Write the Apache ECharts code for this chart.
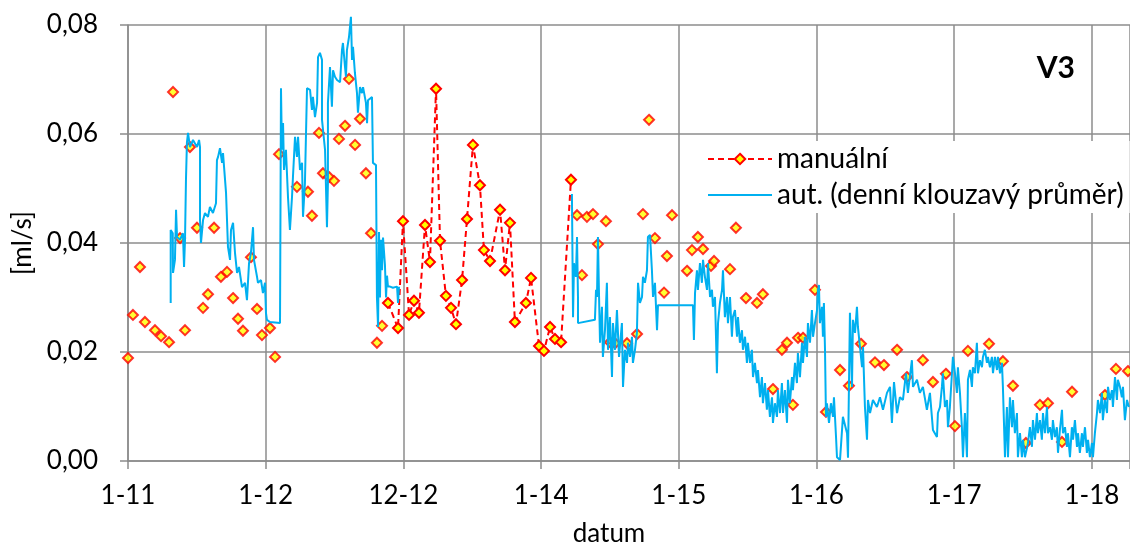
<!DOCTYPE html>
<html>
<head>
<meta charset="utf-8">
<script src="https://cdn.jsdelivr.net/npm/echarts@6/dist/echarts.min.js"></script>
<style>
  html, body { margin: 0; background: #fff; }
  #chart { width: 1130px; height: 547px; }
</style>
</head>
<body>
<div id="chart"></div>
<script>
// x = roky od 1-11 (leden 2011), y = průtok [ml/s]
const xTickLabels = ['1-11', '1-12', '12-12', '1-14', '1-15', '1-16', '1-17', '1-18'];

// manuální měření - samostatné body
const manualLoose = [
  [0.000,0.0189],[0.036,0.0268],[0.087,0.0356],[0.123,0.0255],[0.196,0.0240],[0.240,0.0229],
  [0.298,0.0218],[0.327,0.0677],[0.378,0.0409],[0.414,0.0240],[0.450,0.0576],[0.501,0.0428],
  [0.545,0.0281],[0.581,0.0306],[0.625,0.0428],[0.675,0.0338],[0.719,0.0347],[0.763,0.0299],
  [0.799,0.0261],[0.835,0.0239],[0.893,0.0374],[0.937,0.0279],[0.973,0.0231],[1.031,0.0244],
  [1.068,0.0191],[1.097,0.0563],[1.227,0.0503],[1.307,0.0494],[1.336,0.0450],[1.387,0.0602],
  [1.416,0.0528],[1.460,0.0521],[1.496,0.0514],[1.532,0.0591],[1.576,0.0615],[1.605,0.0701],
  [1.649,0.0580],[1.685,0.0628],[1.728,0.0528],[1.765,0.0418],[1.808,0.0217],[1.845,0.0248],
  [3.261,0.0451],[3.297,0.0341],[3.333,0.0448],[3.377,0.0453],[3.413,0.0398],[3.471,0.0440],
  [3.500,0.0218],[3.537,0.0216],[3.624,0.0216],[3.697,0.0233],[3.740,0.0453],[3.784,0.0626],
  [3.827,0.0409],[3.893,0.0309],[3.914,0.0376],[3.951,0.0451],[4.060,0.0349],[4.096,0.0387],
  [4.139,0.0411],[4.176,0.0389],[4.234,0.0358],[4.256,0.0367],[4.372,0.0352],[4.415,0.0428],
  [4.488,0.0299],[4.568,0.0290],[4.611,0.0306],[4.684,0.0132],[4.749,0.0204],[4.786,0.0217],
  [4.829,0.0103],[4.866,0.0226],[4.902,0.0226],[4.989,0.0314],[5.069,0.0090],[5.171,0.0167],
  [5.236,0.0138],[5.323,0.0215],[5.425,0.0181],[5.490,0.0176],[5.585,0.0204],[5.657,0.0154],
  [5.773,0.0185],[5.846,0.0145],[5.940,0.0160],[6.006,0.0064],[6.100,0.0202],[6.253,0.0215],
  [6.354,0.0183],[6.427,0.0138],[6.521,0.0033],[6.623,0.0103],[6.681,0.0106],[6.783,0.0035],
  [6.856,0.0127],[7.095,0.0121],[7.175,0.0169],[7.262,0.0165]
];

// manuální měření - souvislá řada (12-12 až 1-14)
const manualRun = [
  [1.888,0.0290],[1.961,0.0244],[1.997,0.0440],[2.041,0.0268],[2.077,0.0294],[2.113,0.0272],
  [2.157,0.0433],[2.193,0.0365],[2.237,0.0683],[2.266,0.0404],[2.309,0.0303],[2.346,0.0281],
  [2.382,0.0251],[2.426,0.0332],[2.462,0.0444],[2.505,0.0580],[2.556,0.0506],[2.585,0.0387],
  [2.629,0.0367],[2.702,0.0461],[2.738,0.0350],[2.774,0.0437],[2.810,0.0255],[2.890,0.0290],
  [2.927,0.0336],[2.985,0.0211],[3.021,0.0202],[3.065,0.0246],[3.101,0.0224],[3.145,0.0218],
  [3.217,0.0516]
];

// automatické měření - 2011 až 12-12
const autoA = [
  [0.310,0.0290],[0.310,0.0424],[0.325,0.0418],[0.327,0.0345],[0.341,0.0369],[0.349,0.0461],
  [0.356,0.0411],[0.378,0.0406],[0.399,0.0418],[0.407,0.0356],[0.414,0.0406],[0.421,0.0516],
  [0.428,0.0584],[0.436,0.0602],[0.450,0.0576],[0.472,0.0589],[0.501,0.0576],[0.516,0.0589],
  [0.523,0.0576],[0.523,0.0442],[0.530,0.0400],[0.545,0.0442],[0.559,0.0455],[0.581,0.0448],
  [0.595,0.0466],[0.617,0.0455],[0.639,0.0473],[0.646,0.0552],[0.654,0.0558],[0.668,0.0574],
  [0.683,0.0547],[0.690,0.0565],[0.712,0.0492],[0.719,0.0492],[0.726,0.0393],[0.741,0.0369],
  [0.748,0.0424],[0.763,0.0437],[0.777,0.0382],[0.792,0.0345],[0.806,0.0356],[0.828,0.0319],
  [0.850,0.0327],[0.864,0.0295],[0.879,0.0363],[0.893,0.0382],[0.908,0.0429],[0.915,0.0369],
  [0.937,0.0338],[0.944,0.0327],[0.966,0.0332],[0.980,0.0308],[0.995,0.0327],[1.002,0.0272],
  [1.009,0.0259],[1.031,0.0255],[1.104,0.0253],
  [1.111,0.0684],[1.118,0.0571],[1.126,0.0620],[1.133,0.0534],[1.147,0.0571],[1.162,0.0484],
  [1.176,0.0424],[1.191,0.0484],[1.198,0.0521],[1.213,0.0595],[1.227,0.0558],[1.235,0.0595],
  [1.249,0.0534],[1.264,0.0547],[1.271,0.0448],[1.285,0.0510],[1.300,0.0684],[1.322,0.0681],
  [1.336,0.0644],[1.343,0.0668],[1.358,0.0631],[1.373,0.0657],[1.380,0.0741],[1.394,0.0749],
  [1.409,0.0736],[1.409,0.0626],[1.423,0.0626],[1.431,0.0571],[1.445,0.0429],[1.452,0.0510],
  [1.452,0.0657],[1.467,0.0723],[1.481,0.0650],[1.489,0.0717],[1.503,0.0705],[1.518,0.0699],
  [1.540,0.0695],[1.554,0.0754],[1.561,0.0767],[1.576,0.0723],[1.583,0.0705],[1.590,0.0754],
  [1.605,0.0778],[1.619,0.0815],[1.627,0.0736],[1.634,0.0760],[1.648,0.0712],[1.663,0.0675],
  [1.670,0.0639],[1.685,0.0686],[1.699,0.0675],[1.707,0.0686],[1.728,0.0657],[1.736,0.0620],
  [1.743,0.0662],[1.757,0.0662],[1.772,0.0668],[1.779,0.0547],[1.801,0.0543],[1.808,0.0300],
  [1.816,0.0246],[1.823,0.0420],[1.830,0.0300],[1.837,0.0406],[1.845,0.0350],[1.852,0.0410],
  [1.866,0.0360],[1.874,0.0300],[1.881,0.0340],[1.888,0.0320],[1.903,0.0320],[1.924,0.0318],
  [1.954,0.0320],[1.961,0.0290],[1.968,0.0320]
];

// automatické měření - 1-14 až 1-18
const autoB = [
  [3.224,0.0490],[3.232,0.0264],[3.239,0.0363],[3.253,0.0338],[3.261,0.0411],[3.268,0.0301],
  [3.268,0.0253],[3.282,0.0255],[3.391,0.0259],[3.399,0.0314],[3.406,0.0301],[3.413,0.0411],
  [3.420,0.0314],[3.428,0.0217],[3.442,0.0283],[3.449,0.0191],[3.464,0.0240],[3.478,0.0327],
  [3.486,0.0204],[3.500,0.0264],[3.515,0.0154],[3.522,0.0253],[3.537,0.0204],[3.551,0.0277],
  [3.566,0.0191],[3.587,0.0253],[3.595,0.0136],[3.609,0.0204],[3.624,0.0180],[3.631,0.0217],
  [3.646,0.0191],[3.660,0.0228],[3.667,0.0180],[3.682,0.0204],[3.696,0.0235],[3.704,0.0327],
  [3.718,0.0290],[3.733,0.0301],[3.740,0.0338],[3.754,0.0327],[3.769,0.0350],[3.776,0.0411],
  [3.791,0.0415],[3.805,0.0350],[3.813,0.0301],[3.827,0.0327],[3.842,0.0240],[3.849,0.0286],
  [3.958,0.0286],[4.103,0.0286],[4.110,0.0222],[4.118,0.0308],[4.132,0.0350],[4.139,0.0314],
  [4.154,0.0363],[4.168,0.0327],[4.176,0.0369],[4.190,0.0338],[4.205,0.0314],[4.212,0.0363],
  [4.227,0.0301],[4.241,0.0314],[4.248,0.0283],[4.263,0.0301],[4.277,0.0161],[4.285,0.0253],
  [4.299,0.0290],[4.314,0.0314],[4.321,0.0350],[4.335,0.0264],[4.350,0.0301],[4.357,0.0253],
  [4.372,0.0301],[4.386,0.0228],[4.393,0.0264],[4.408,0.0277],[4.423,0.0228],[4.430,0.0264],
  [4.444,0.0217],[4.459,0.0240],[4.466,0.0204],[4.481,0.0228],[4.495,0.0180],[4.502,0.0217],
  [4.517,0.0180],[4.531,0.0204],[4.539,0.0154],[4.553,0.0180],[4.568,0.0143],[4.575,0.0167],
  [4.590,0.0117],[4.604,0.0154],[4.611,0.0106],[4.626,0.0143],[4.640,0.0094],[4.648,0.0130],
  [4.662,0.0081],[4.677,0.0117],[4.684,0.0070],[4.698,0.0106],[4.713,0.0081],[4.720,0.0130],
  [4.735,0.0088],[4.749,0.0143],[4.757,0.0088],[4.771,0.0130],[4.786,0.0070],[4.793,0.0149],
  [4.807,0.0106],[4.822,0.0154],[4.829,0.0130],[4.844,0.0180],[4.858,0.0143],[4.865,0.0198],
  [4.880,0.0154],[4.895,0.0217],[4.902,0.0180],[4.916,0.0228],[4.931,0.0191],[4.938,0.0253],
  [4.953,0.0217],[4.967,0.0277],[4.975,0.0228],[4.989,0.0253],[5.004,0.0277],[5.011,0.0314],
  [5.018,0.0323],[5.025,0.0253],[5.040,0.0283],[5.047,0.0228],[5.054,0.0290],[5.062,0.0204],
  [5.069,0.0081],[5.076,0.0106],[5.091,0.0070],[5.105,0.0106],[5.120,0.0081],[5.127,0.0117],
  [5.142,0.0044],[5.149,0.0007],[5.171,0.0002],[5.192,0.0081],[5.222,0.0051],[5.229,0.0006],
  [5.243,0.0272],[5.258,0.0136],[5.265,0.0259],[5.280,0.0235],[5.294,0.0283],[5.301,0.0246],
  [5.316,0.0209],[5.331,0.0172],[5.338,0.0209],[5.352,0.0099],[5.367,0.0039],[5.374,0.0112],
  [5.389,0.0088],[5.410,0.0112],[5.439,0.0099],[5.461,0.0117],[5.483,0.0094],[5.512,0.0125],
  [5.534,0.0136],[5.548,0.0070],[5.563,0.0145],[5.585,0.0088],[5.606,0.0117],[5.628,0.0112],
  [5.650,0.0161],[5.664,0.0125],[5.693,0.0185],[5.701,0.0136],[5.730,0.0149],[5.751,0.0125],
  [5.773,0.0136],[5.802,0.0094],[5.824,0.0125],[5.846,0.0057],[5.875,0.0044],[5.882,0.0088],
  [5.897,0.0099],[5.911,0.0136],[5.918,0.0161],[5.933,0.0099],[5.948,0.0112],[5.955,0.0062],
  [5.969,0.0099],[5.984,0.0161],[5.991,0.0191],[6.006,0.0161],[6.020,0.0125],[6.027,0.0172],
  [6.042,0.0125],[6.056,0.0062],[6.064,0.0007],[6.078,0.0088],[6.093,0.0007],[6.100,0.0149],
  [6.115,0.0167],[6.129,0.0136],[6.136,0.0172],[6.151,0.0161],[6.165,0.0217],[6.173,0.0161],
  [6.187,0.0185],[6.202,0.0172],[6.209,0.0191],[6.223,0.0204],[6.238,0.0180],[6.245,0.0191],
  [6.260,0.0172],[6.274,0.0191],[6.282,0.0161],[6.296,0.0191],[6.311,0.0167],[6.318,0.0191],
  [6.333,0.0161],[6.347,0.0180],[6.354,0.0136],[6.369,0.0007],[6.383,0.0099],[6.391,0.0007],
  [6.405,0.0117],[6.420,0.0062],[6.427,0.0112],[6.441,0.0051],[6.456,0.0088],[6.463,0.0007],
  [6.478,0.0051],[6.492,0.0007],[6.500,0.0039],[6.514,0.0007],[6.536,0.0033],[6.550,0.0062],
  [6.565,0.0026],[6.572,0.0075],[6.587,0.0039],[6.601,0.0088],[6.608,0.0051],[6.623,0.0075],
  [6.637,0.0039],[6.645,0.0088],[6.659,0.0051],[6.674,0.0099],[6.681,0.0051],[6.696,0.0062],
  [6.710,0.0039],[6.717,0.0075],[6.732,0.0044],[6.746,0.0062],[6.754,0.0015],[6.768,0.0057],
  [6.783,0.0094],[6.790,0.0051],[6.805,0.0062],[6.819,0.0026],[6.826,0.0051],[6.841,0.0007],
  [6.855,0.0062],[6.863,0.0039],[6.877,0.0075],[6.892,0.0026],[6.899,0.0051],[6.913,0.0015],
  [6.928,0.0051],[6.935,0.0026],[6.950,0.0062],[6.964,0.0015],[6.972,0.0039],[6.986,0.0007],
  [7.001,0.0033],[7.008,0.0007],[7.022,0.0051],[7.037,0.0088],[7.044,0.0112],[7.059,0.0088],
  [7.073,0.0125],[7.080,0.0075],[7.095,0.0112],[7.110,0.0088],[7.117,0.0136],[7.131,0.0112],
  [7.146,0.0130],[7.153,0.0099],[7.168,0.0154],[7.182,0.0112],[7.189,0.0149],[7.204,0.0136],
  [7.218,0.0117],[7.226,0.0136],[7.240,0.0075],[7.255,0.0112],[7.269,0.0099]
];

const FONT = "Lato, 'Open Sans', sans-serif";
const GRID_GRAY = '#8c8c8c';
const MANUAL = 'manuální';
const AUTO = 'aut. (denní klouzavý průměr)';

const chart = echarts.init(document.getElementById('chart'));

const diamondStyle = { color: '#FFFF00', borderColor: '#FF0000', borderWidth: 2 };

chart.setOption({
  animation: false,
  textStyle: { fontFamily: FONT },
  title: {
    text: 'V3',
    right: 50,
    top: 48,
    textStyle: { fontSize: 30, fontWeight: 'bold', color: '#000', fontFamily: FONT }
  },
  legend: {
    orient: 'vertical',
    left: 697,
    top: 141,
    itemWidth: 64,
    itemHeight: 13,
    itemGap: 8,
    padding: [4, 6, 4, 10],
    backgroundColor: '#fff',
    textStyle: { fontSize: 28, color: '#000', fontFamily: FONT },
    data: [
      { name: MANUAL },
      { name: AUTO, itemStyle: { opacity: 0 } }
    ]
  },
  grid: { left: 128, right: 0, top: 25, bottom: 86, outerBoundsMode: 'none' },
  xAxis: {
    type: 'value',
    min: 0,
    max: 7.277,
    interval: 1,
    name: 'datum',
    nameLocation: 'middle',
    nameGap: 60,
    nameMoveOverlap: false,
    nameTextStyle: { fontSize: 26, color: '#000', padding: [0, 40, 0, 0] },
    axisLine: { lineStyle: { color: GRID_GRAY, width: 1.5 } },
    axisTick: { show: true, length: 8, lineStyle: { color: GRID_GRAY, width: 1.5 } },
    axisLabel: {
      fontSize: 26, color: '#000', margin: 22,
      formatter: v => (Math.abs(v - Math.round(v)) < 1e-6 ? (xTickLabels[Math.round(v)] || '') : '')
    },
    splitLine: { show: true, lineStyle: { color: GRID_GRAY, width: 1.5 } }
  },
  yAxis: {
    type: 'value',
    min: 0,
    max: 0.08,
    interval: 0.02,
    name: '[ml/s]',
    nameLocation: 'middle',
    nameGap: 92,
    nameMoveOverlap: false,
    nameTextStyle: { fontSize: 26, color: '#000' },
    axisLine: { show: true, lineStyle: { color: GRID_GRAY, width: 1.5 } },
    axisTick: { show: true, length: 8, lineStyle: { color: GRID_GRAY, width: 1.5 } },
    axisLabel: {
      fontSize: 26, color: '#000', margin: 30,
      formatter: v => v.toFixed(2).replace('.', ',')
    },
    splitLine: { show: true, lineStyle: { color: GRID_GRAY, width: 1.5 } }
  },
  series: [
    {
      name: MANUAL,
      type: 'line',
      data: manualRun,
      symbol: 'diamond',
      symbolSize: 10,
      itemStyle: diamondStyle,
      lineStyle: { color: '#FF0000', width: 2, type: [6, 4] },
      z: 2
    },
    {
      name: MANUAL,
      type: 'scatter',
      data: manualLoose,
      symbol: 'diamond',
      symbolSize: 10,
      itemStyle: diamondStyle,
      z: 2
    },
    {
      name: AUTO,
      type: 'line',
      data: autoA.concat([[2.5, '-']], autoB),
      symbol: 'none',
      connectNulls: false,
      clip: false,
      lineStyle: { color: '#00B0F0', width: 2 },
      itemStyle: { color: '#00B0F0' },
      z: 3
    }
  ]
});
</script>
</body>
</html>
